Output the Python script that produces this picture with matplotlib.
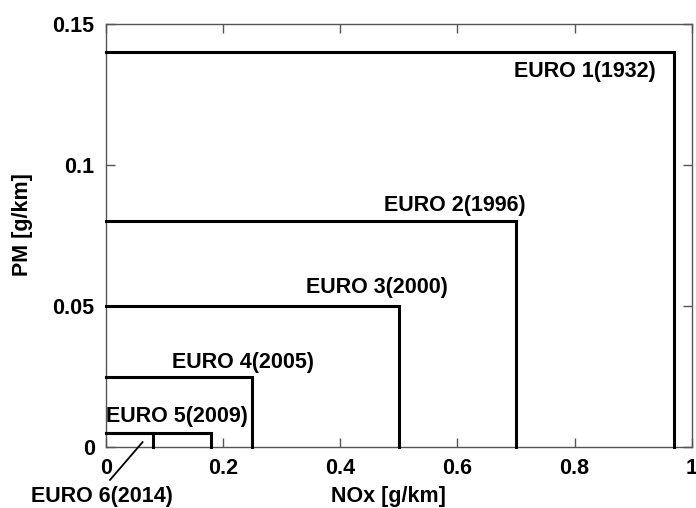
import matplotlib
matplotlib.use("Agg")
import matplotlib.pyplot as plt

# Emission standards (limit boxes: NOx on x, PM on y)
standards = ["EURO 1(1932)", "EURO 2(1996)", "EURO 3(2000)",
             "EURO 4(2005)", "EURO 5(2009)", "EURO 6(2014)"]
nox_limits = [0.97, 0.70, 0.50, 0.25, 0.18, 0.08]
pm_limits = [0.14, 0.08, 0.05, 0.025, 0.005, 0.005]

x_ticks = [0, 0.2, 0.4, 0.6, 0.8, 1.0]
x_tick_labels = ["0", "0.2", "0.4", "0.6", "0.8", "1"]
y_ticks = [0, 0.05, 0.1, 0.15]
y_tick_labels = ["0", "0.05", "0.1", "0.15"]

plt.rcParams["font.family"] = ["Liberation Sans", "DejaVu Sans"]
plt.rcParams["font.weight"] = "bold"

fig = plt.figure(figsize=(6.96, 5.08), dpi=100)
ax = fig.add_axes([0.152, 0.120, 0.842, 0.833])

for nox, pm in zip(nox_limits, pm_limits):
    ax.plot([0, nox, nox], [pm, pm, 0], color="black", lw=2.2,
            solid_joinstyle="miter", clip_on=False, zorder=3)

fs = 15.5
# label placement (data coords, alignment)
label_pos = [
    (0.938, 0.133, "right"),
    (0.474, 0.0855, "left"),
    (0.342, 0.0567, "left"),
    (0.113, 0.0300, "left"),
    (0.000, 0.0107, "left"),
]
for name, (lx, ly, ha) in zip(standards[:5], label_pos):
    ax.text(lx, ly, name, ha=ha, va="center", fontsize=fs, fontweight="bold")

# EURO 6 label sits below the axis with a leader line to its box
ax.text(-0.127, -0.0177, standards[5], ha="left", va="center",
        fontsize=fs, fontweight="bold", clip_on=False)
ax.annotate("", xy=(0.063, 0.0018), xytext=(0.007, -0.0117),
            textcoords="data", annotation_clip=False,
            arrowprops=dict(arrowstyle="-", color="black", lw=1.3,
                            shrinkA=0, shrinkB=0))

ax.set_xlim(0, 1.0)
ax.set_ylim(0, 0.15)
ax.set_xticks(x_ticks)
ax.set_xticklabels(x_tick_labels)
ax.set_yticks(y_ticks)
ax.set_yticklabels(y_tick_labels)
ax.tick_params(direction="in", length=6.5, width=1.0, color="#555555",
               top=True, right=True, labelsize=fs, pad=8)
for lab in ax.get_xticklabels() + ax.get_yticklabels():
    lab.set_fontweight("bold")
for sp in ax.spines.values():
    sp.set_color("#555555")
    sp.set_linewidth(1.0)

ax.set_xlabel("NOx [g/km]", fontsize=fs, fontweight="bold")
ax.set_ylabel("PM [g/km]", fontsize=fs, fontweight="bold")
ax.xaxis.set_label_coords(0.483, -0.093)
ax.yaxis.set_label_coords(-0.124, 0.525)

fig.savefig("out.png", dpi=100)
